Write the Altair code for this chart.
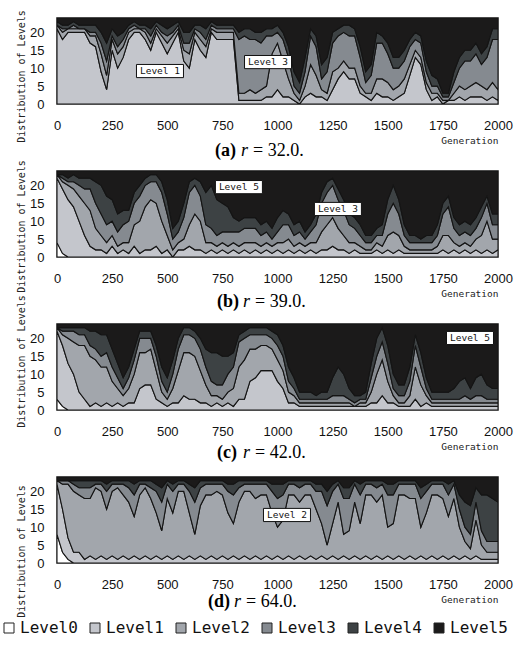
import altair as alt
import pandas as pd

GENERATIONS = list(range(0, 2001, 25))
LEVELS = ["Level0", "Level1", "Level2", "Level3", "Level4", "Level5"]
COLORS = ["#ffffff", "#c4c6cc", "#a2a6ac", "#858a90", "#3d4244", "#1b1a1a"]
X_TICKS = [0, 250, 500, 750, 1000, 1250, 1500, 1750, 2000]
Y_TICKS = [0, 5, 10, 15, 20]

# ---- panel (a) r = 32.0 : individuals per level, every 25 generations ----
A_L0 = [0,0,0,0,0,0,0,0,0,0, 0,0,0,0,0,0,0,0,0,0, 0,0,0,0,0,0,0,0,0,0, 0,0,0,0,0,0,0,0,0,0,
        0,0,0,0,0,0,0,0,0,0, 0,0,0,0,0,0,0,0,0,0, 0,0,0,0,0,0,0,0,0,0, 0,0,0,0,0,0,0,0,0,0, 0]
A_L1 = [21,18,20,20,20,20,17,16,9,4, 15,10,13,18,20,20,18,15,20,17, 14,17,20,12,10,18,15,13,20,18,
        18,18,18,1,1,1,1,1,2,2, 4,2,2,1,0,2,3,2,2,1, 4,7,9,7,7,3,2,1,3,2, 2,1,2,3,8,13,11,4,1,2,
        0,1,1,2,1,2,2,2,1,2, 1]
A_L2 = [1,2,1,1,1,1,2,3,5,4, 3,4,3,2,1,1,2,2,1,2, 3,2,1,3,4,2,3,3,1,2, 2,2,2,2,2,3,2,3,3,12,
        13,10,5,2,1,3,8,6,2,2, 5,3,3,3,3,2,1,2,4,5, 4,3,3,4,3,2,2,2,2,1, 1,0,2,3,3,3,4,3,3,4, 3]
A_L3 = [0,1,0,1,0,0,1,1,3,4, 1,2,2,1,1,0,1,2,1,1, 2,1,1,2,3,1,2,2,1,1, 1,1,1,15,16,14,15,13,14,5,
        3,6,6,2,2,4,8,8,3,6, 8,9,8,9,9,8,3,5,10,10, 8,6,5,5,5,3,4,3,2,2, 1,1,3,5,8,7,8,6,9,12, 14]
A_L4 = [1,1,1,1,1,1,2,2,3,5, 2,3,2,1,1,1,1,2,1,2, 2,2,1,3,3,1,2,3,1,1, 1,1,1,2,2,3,2,3,2,2,
        2,2,3,4,3,4,2,3,4,4, 3,2,2,3,2,3,3,3,3,2, 3,3,3,3,2,2,2,3,3,2, 1,1,3,3,3,3,3,3,3,3, 3]
A_L5 = [1,2,2,1,2,2,2,2,4,7, 3,5,4,2,1,2,2,3,1,2, 3,2,1,4,4,2,2,3,1,2, 2,2,2,4,3,3,4,4,3,3,
        2,4,8,15,18,11,3,5,13,11, 4,3,2,2,3,8,15,13,4,5, 7,11,11,9,6,4,5,12,16,17,
        21,21,15,11,9,9,7,10,8,3, 3]

# ---- panel (b) r = 39.0 ----
B_L0 = [4,1,0,0,0,0,0,0,0,0, 0,0,0,0,0,0,0,0,0,0, 0,0,0,0,0,0,0,0,0,0, 0,0,0,0,0,0,0,0,0,0,
        0,0,0,0,0,0,0,0,0,0, 0,0,0,0,0,0,0,0,0,0, 0,0,0,0,0,0,0,0,0,0, 0,0,0,0,0,0,0,0,0,0, 0]
B_L1 = [18,18,16,14,10,6,3,2,2,1, 3,1,2,1,3,1,2,2,3,1, 2,0,2,2,3,2,2,1,2,1, 2,1,2,1,2,1,2,1,2,1,
        2,1,2,1,2,1,2,1,2,2, 3,2,2,1,2,1,1,1,2,1, 2,1,2,1,1,1,1,1,1,1, 2,1,2,1,2,1,2,1,2,1, 2]
B_L2 = [1,2,4,5,7,9,10,6,4,3, 3,2,2,3,6,9,12,14,12,9, 4,2,2,3,6,10,8,3,2,2, 2,2,2,2,2,3,2,2,2,2,
        2,3,3,2,2,2,2,3,5,7, 8,6,4,3,2,2,1,1,2,2, 4,6,4,2,1,1,1,1,1,2, 4,5,2,2,2,2,3,5,8,4, 3]
B_L3 = [0,1,1,2,3,4,6,7,6,5, 4,4,5,6,6,7,6,5,6,8, 6,3,3,6,9,8,7,5,4,3, 3,4,3,4,4,4,4,3,3,2,
        3,5,4,3,3,2,3,5,8,9, 9,8,7,5,4,3,2,2,2,3, 6,8,6,3,2,2,2,2,2,3, 6,8,4,3,3,3,3,5,5,4, 4]
B_L4 = [0,1,1,2,2,3,3,6,8,8, 6,5,4,3,3,3,2,2,2,3, 4,3,3,4,3,2,4,9,12,10, 8,7,4,3,3,3,3,3,3,3,
        4,4,3,3,3,2,2,3,3,3, 2,3,3,3,3,3,2,2,2,3, 4,5,4,3,2,2,1,2,2,3, 3,3,3,3,3,3,3,3,2,3, 3]
B_L5 = [1,1,2,1,2,2,2,3,4,7, 8,12,11,11,6,4,2,1,1,3, 8,16,14,9,3,2,3,6,4,8,
        9,10,13,14,13,13,13,15,14,16, 13,11,12,15,14,17,15,12,6,3, 2,5,8,12,13,15,18,18,16,15,
        8,4,8,15,18,18,19,18,18,15, 9,7,13,15,14,15,13,10,7,12, 12]

# ---- panel (c) r = 42.0 ----
C_L0 = [3,1,0,0,0,0,0,0,0,0, 0,0,0,0,0,0,0,0,0,0, 0,0,0,0,0,0,0,0,0,0, 0,0,0,0,0,0,0,0,0,0,
        0,0,0,0,0,0,0,0,0,0, 0,0,0,0,0,0,0,0,0,0, 0,0,0,0,0,0,0,0,0,0, 0,0,0,0,0,0,0,0,0,0, 0]
C_L1 = [19,17,13,10,5,3,1,2,1,2, 1,2,1,2,2,6,7,7,3,2, 1,2,2,4,3,3,2,2,1,2, 1,2,1,3,3,8,9,11,11,11,
        8,6,2,2,1,1,1,1,1,1, 1,1,1,1,1,1,1,2,2,4, 2,2,1,1,1,3,1,2,1,1, 1,1,1,1,1,1,1,1,1,1, 1]
C_L2 = [1,3,7,9,13,15,14,12,11,10, 7,4,3,4,8,10,9,10,8,3, 2,4,9,12,13,12,9,5,3,2, 2,3,5,9,11,9,8,7,7,6,
        6,5,3,2,1,1,1,1,1,1, 1,1,1,1,0,1,1,3,8,10, 6,2,1,1,3,9,6,2,1,1, 1,1,1,1,1,1,1,1,1,1, 1]
C_L3 = [0,1,2,3,3,3,3,3,3,4, 4,3,2,3,4,4,4,3,4,3, 2,4,6,5,5,5,6,5,4,3, 4,5,6,7,6,4,4,3,3,3,
        4,4,3,2,1,1,1,1,1,1, 2,2,2,1,1,1,1,4,5,5, 5,2,2,2,4,6,5,2,1,1, 1,1,1,1,2,1,2,2,1,1, 1]
C_L4 = [0,1,1,1,2,2,4,5,6,5, 5,4,3,3,3,2,2,2,3,4, 4,4,3,2,2,2,3,5,8,9, 8,5,4,2,2,2,2,2,2,2,
        3,3,4,3,2,2,2,1,2,2, 5,8,6,3,2,1,2,4,5,4, 5,4,3,3,4,3,4,3,2,2, 2,2,3,5,5,3,5,6,4,3, 3]
C_L5 = [1,1,1,1,1,1,2,2,3,3, 7,11,15,12,7,2,2,2,6,12, 15,10,4,1,1,2,4,7,8,8, 9,9,8,3,2,1,1,1,1,2,
        3,6,12,15,19,19,19,20,19,19, 15,12,14,18,20,20,19,11,4,1, 6,14,17,17,12,3,8,15,19,19,
        19,19,18,16,15,18,15,14,17,18, 18]

# ---- panel (d) r = 64.0 ----
D_L0 = [8,3,1,0,0,0,0,0,0,0, 0,0,0,0,0,0,0,0,0,0, 0,0,0,0,0,0,0,0,0,0, 0,0,0,0,0,0,0,0,0,0,
        0,0,0,0,0,0,0,0,0,0, 0,0,0,0,0,0,0,0,0,0, 0,0,0,0,0,0,0,0,0,0, 0,0,0,0,0,0,0,0,0,0, 0]
D_L1 = [14,12,6,3,3,1,2,1,2,1, 2,1,2,1,2,1,2,1,2,1, 2,1,2,1,2,1,2,1,2,1, 2,1,2,1,2,1,2,1,2,1,
        2,1,2,1,2,1,2,1,2,1, 2,1,2,1,2,1,2,1,2,1, 2,1,2,1,2,1,2,1,2,1, 2,1,2,1,2,1,2,1,1,1, 1]
D_L2 = [1,7,15,17,16,17,16,20,18,14, 18,20,17,16,11,18,19,17,12,8, 16,13,18,19,12,7,14,18,17,19,
        17,13,9,16,18,19,16,18,17,13, 8,11,17,18,15,18,17,14,9,4, 9,16,6,8,15,10,17,18,15,18,
        8,10,17,18,16,17,8,13,17,18, 16,12,16,9,4,3,10,4,2,2, 2]
D_L3 = [0,1,1,2,2,3,3,1,2,5, 2,1,3,4,6,3,1,3,6,8, 4,6,2,2,6,9,5,3,3,2, 3,6,8,4,2,2,4,3,3,6,
        8,7,3,3,4,3,3,5,9,11, 9,5,10,9,5,8,3,3,4,3, 9,8,3,3,4,4,8,6,3,3, 4,6,4,5,4,4,5,4,3,3, 3]
D_L4 = [0,0,0,1,2,2,2,1,1,2, 1,1,1,2,3,1,1,2,2,4, 1,2,1,1,2,4,2,1,1,1, 1,2,3,2,1,1,1,1,1,2,
        4,3,1,1,2,1,1,2,2,4, 2,1,3,3,1,3,1,1,2,1, 3,3,1,1,1,1,3,2,1,1, 1,3,1,4,7,8,4,10,13,12, 11]
D_L5 = [1,1,1,1,1,1,1,1,1,2, 1,1,1,1,2,1,1,1,2,3, 1,2,1,1,2,3,1,1,1,1, 1,2,2,1,1,1,1,1,1,2,
        2,2,1,1,1,1,1,2,2,4, 2,1,3,3,1,2,1,1,1,1, 2,2,1,1,1,1,3,2,1,1, 1,2,1,5,7,8,3,5,5,6, 7]

PANEL_LETTERS = ["(a)", "(b)", "(c)", "(d)"]
PANEL_R_TEXT = ["= 32.0.", "= 39.0.", "= 42.0.", "= 64.0."]

ANNOT_A = {"label": ["Level 1", "Level 3"], "gen": [467, 957], "count": [9.2, 11.7]}
ANNOT_B = {"label": ["Level 5", "Level 3"], "gen": [825, 1274], "count": [19.5, 13.4]}
ANNOT_C = {"label": ["Level 5"], "gen": [1873], "count": [20.1]}
ANNOT_D = {"label": ["Level 2"], "gen": [1043], "count": [13.4]}

PANELS = [
    ([A_L0, A_L1, A_L2, A_L3, A_L4, A_L5], ANNOT_A),
    ([B_L0, B_L1, B_L2, B_L3, B_L4, B_L5], ANNOT_B),
    ([C_L0, C_L1, C_L2, C_L3, C_L4, C_L5], ANNOT_C),
    ([D_L0, D_L1, D_L2, D_L3, D_L4, D_L5], ANNOT_D),
]

# layout (pixels)
W, H = 441, 86
Y_TITLE_Y = [58, 55, 37, 74]
CAPTION_X = [158, 160, 160, 151]
CAPTION_Y = [133, 131, 129, 125]

bad = []
for pi, (series, _) in enumerate(PANELS):
    for s in series:
        if len(s) != len(GENERATIONS):
            bad.append((pi, "len", len(s)))
    for k in range(len(GENERATIONS)):
        tot = sum(s[k] for s in series)
        if tot != 24:
            bad.append((pi, GENERATIONS[k], tot))
if bad:
    raise ValueError(str(bad))

BOX = "M-1,-0.28L1,-0.28L1,0.28L-1,0.28Z"


def x_enc():
    return alt.X("gen:Q", scale=alt.Scale(domain=[0, 2000], nice=False, zero=False),
                 axis=alt.Axis(
                     values=X_TICKS, title="Generation", grid=False, ticks=False, domain=False,
                     labelPadding=15, labelFont="Liberation Sans", labelFontSize=13,
                     labelColor="#111", labelFlush=False, format="d",
                     titleFont="DejaVu Sans Mono", titleFontSize=9.5, titleFontWeight="normal",
                     titleColor="#222", titleX=W, titleY=36, titleAlign="right",
                     titleBaseline="middle"))


def y_enc(i, stacked):
    kw = {}
    if stacked:
        kw["stack"] = "zero"
    return alt.Y("count:Q", scale=alt.Scale(domain=[0, 24], nice=False),
                 axis=alt.Axis(
                     values=Y_TICKS, title="Distribution of Levels", grid=False, ticks=False,
                     domain=False, labelPadding=13, labelFont="Liberation Sans",
                     labelFontSize=13, labelColor="#111",
                     titleFont="DejaVu Sans Mono", titleFontSize=10, titleFontWeight="normal",
                     titleColor="#222", titleAngle=270, titleX=-36, titleY=Y_TITLE_Y[i],
                     titleAlign="center", titleBaseline="middle"), **kw)


def make_panel(i):
    series, annot = PANELS[i]
    rows = []
    for li, (name, counts) in enumerate(zip(LEVELS, series)):
        for g, c in zip(GENERATIONS, counts):
            rows.append({"gen": g, "level": name, "li": li, "count": c})
    df = pd.DataFrame(rows)

    area = alt.Chart(df).mark_area(
        stroke="#141414", strokeWidth=1.1, interpolate="linear", clip=True, opacity=1
    ).encode(
        x=x_enc(),
        y=y_enc(i, True),
        color=alt.Color("level:N", scale=alt.Scale(domain=LEVELS, range=COLORS),
                        legend=alt.Legend(
                            title=None, orient="none", legendX=-56, legendY=602,
                            direction="horizontal", columns=6, symbolType="square",
                            symbolSize=100, symbolStrokeColor="#222", symbolStrokeWidth=1,
                            symbolOpacity=1, labelFont="DejaVu Sans Mono", labelFontSize=16,
                            labelColor="#111", columnPadding=9, labelOffset=3)),
        order=alt.Order("li:Q", sort="ascending"),
    )

    adf = pd.DataFrame(annot)
    box = alt.Chart(adf).mark_point(
        shape=BOX, size=47 * 47, filled=True, fill="white", stroke="#111",
        strokeWidth=1, opacity=1
    ).encode(x=x_enc(), y=y_enc(i, False))
    label = alt.Chart(adf).mark_text(
        font="DejaVu Sans Mono", fontSize=9.5, color="#111", align="center", baseline="middle"
    ).encode(x=x_enc(), y=y_enc(i, False), text="label:N")

    cx, cy = CAPTION_X[i], CAPTION_Y[i]
    cap_letter = alt.Chart(pd.DataFrame({"t": [PANEL_LETTERS[i]]})).mark_text(
        font="Liberation Serif", fontSize=18, fontWeight="bold", align="left",
        baseline="middle", color="#000"
    ).encode(text="t:N", x=alt.value(cx), y=alt.value(cy))
    cap_r = alt.Chart(pd.DataFrame({"t": ["r"]})).mark_text(
        font="Liberation Serif", fontSize=18, fontStyle="italic", align="left",
        baseline="middle", color="#000"
    ).encode(text="t:N", x=alt.value(cx + 26), y=alt.value(cy))
    cap_val = alt.Chart(pd.DataFrame({"t": [PANEL_R_TEXT[i]]})).mark_text(
        font="Liberation Serif", fontSize=18, align="left", baseline="middle", color="#000"
    ).encode(text="t:N", x=alt.value(cx + 38), y=alt.value(cy))

    return alt.layer(area, box, label, cap_letter, cap_r, cap_val).properties(width=W, height=H)


chart = alt.vconcat(
    *[make_panel(i) for i in range(4)], spacing=67, bounds="flush"
).resolve_scale(color="shared").properties(
    padding={"left": 1, "top": 9, "right": 4, "bottom": 4}, background="white"
).configure_view(
    stroke="#111", strokeWidth=1.5
)

chart.save("out.html", embed_options={"renderer": "svg", "actions": False})
